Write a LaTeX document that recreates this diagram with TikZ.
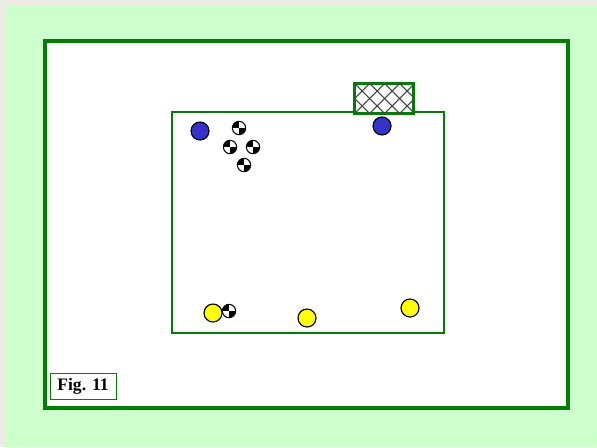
\documentclass[tikz,border=0pt]{standalone}
\usepackage{fontspec}
\setmainfont{Liberation Serif}
\usepackage{tikz}
\usetikzlibrary{positioning, fit}

\definecolor{pagegrey}{HTML}{EEEBE5}
\definecolor{lightgrass}{HTML}{CCFFCC}
\definecolor{linegreen}{HTML}{008000}
\definecolor{teamblue}{HTML}{3333CC}
\definecolor{teamyellow}{HTML}{FFFF00}

\begin{document}
\begin{tikzpicture}[
  x=0.03cm, y=-0.03cm,
  frame/.style={draw=linegreen, line width=3.4pt, fill=white, inner sep=0pt},
  field/.style={draw=linegreen, line width=1.1pt, inner sep=0pt},
  goalnet/.style={draw=linegreen, line width=1.3pt, fill=white, inner sep=0pt},
  blue/.style={circle, draw, line width=1pt, fill=teamblue, minimum size=0.54cm, inner sep=0pt},
  yellowp/.style={circle, draw, line width=1pt, fill=teamyellow, minimum size=0.54cm, inner sep=0pt},
  ball/.style={circle, draw, line width=0.9pt, fill=white, minimum size=0.4cm, inner sep=0pt,
    path picture={
      \fill[black] (path picture bounding box.center) rectangle (path picture bounding box.north west);
      \fill[black] (path picture bounding box.center) rectangle (path picture bounding box.south east);
    }},
  figlabel/.style={draw=linegreen, line width=0.8pt, fill=white, font=\fontsize{15}{18}\selectfont\bfseries,
    minimum width=1.98cm, minimum height=0.78cm, inner sep=0pt}
]
\useasboundingbox (0,0) rectangle (597,447);
% page and grass
\fill[pagegrey] (0,0) rectangle (597,447);
\fill[lightgrass] (6,6) rectangle (597,447);

% outer frame
\node[frame, fit={(45,41) (568,408)}] (pitch) {};

% marked area
\node[field, fit={(172,112) (444,333)}] (area) {};

% goal with net
\node[goalnet, fit={(355,84) (413,113)}] (goal) {};
\begin{scope}
  \clip (goal.south west) rectangle (goal.north east);
  \foreach \i in {-45,-30,...,75}
  {
    \draw[gray!50!black, line width=0.9pt] (355+\i,84) -- ++(40,40);
    \draw[gray!50!black, line width=0.9pt] (355+\i,113) -- ++(40,-40);
  }
\end{scope}
\draw[linegreen, line width=1.3pt] (goal.south west) rectangle (goal.north east);

% blue team
\node[blue] (b1) at (200,131) {};
\node[blue] (b2) at (382,126) {};

% balls
\node[ball] (ball1) at (239,128) {};
\node[ball] (ball2) at (230,147) {};
\node[ball] (ball3) at (253,147) {};
\node[ball] (ball4) at (244,165) {};
\node[ball] (ball5) at (229,311) {};

% yellow team
\node[yellowp] (y1) at (213,313) {};
\node[yellowp] (y2) at (307,318) {};
\node[yellowp] (y3) at (410,308) {};

% caption
\node[figlabel] (fig) at (83,386) {Fig. 11};
\end{tikzpicture}
\end{document}
